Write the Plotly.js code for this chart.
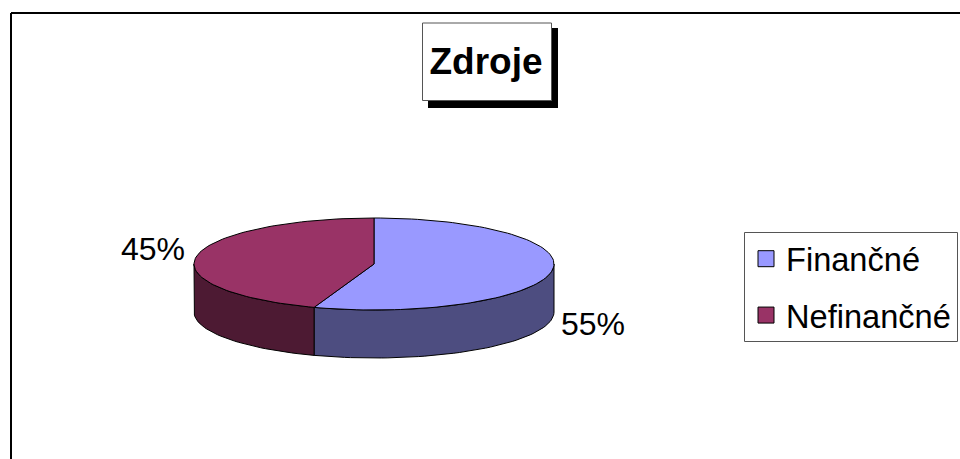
<!DOCTYPE html>
<html><head><meta charset="utf-8">
<script src="https://cdn.plot.ly/plotly-3.0.1.min.js"></script>
<style>html,body{margin:0;padding:0;background:#fff}</style></head>
<body><div id="chart" style="width:960px;height:459px"></div>
<script>
const categories = ['Finančné', 'Nefinančné'];
const values = [55.4, 44.6];
const topColors = ['#9999FF', '#993366'];
const wallColors = ['#4D4D80', '#4D1A33'];
const titleText = 'Zdroje';
const labelPos = [[593, 324], [153, 249]];

const FONT = '"Liberation Sans", Arial, sans-serif';
const cx = 374, cy = 264, rx = 180, ry = 46, depth = 48;
const pt = (deg, dy) => {
  const a = deg * Math.PI / 180;
  return [cx + rx * Math.sin(a), cy - ry * Math.cos(a) + (dy || 0)];
};
const arc = (a0, a1, dy) => {
  const out = [];
  const n = Math.max(1, Math.ceil(Math.abs(a1 - a0) / 2));
  for (let i = 0; i <= n; i++) out.push(pt(a0 + (a1 - a0) * i / n, dy));
  return out;
};
const total = values.reduce((s, v) => s + v, 0);
const traces = [];
let start = 0;
const tops = [];
values.forEach((v, i) => {
  const end = start + v / total * 360;
  const w0 = Math.max(start, 90), w1 = Math.min(end, 270);
  if (w1 > w0) {
    const poly = arc(w0, w1, 0).concat(arc(w1, w0, depth));
    poly.push(poly[0]);
    traces.push({type:'scatter', mode:'lines', x:poly.map(p=>p[0]), y:poly.map(p=>p[1]),
      fill:'toself', fillcolor:wallColors[i], line:{color:'#000', width:1}, showlegend:false, hoverinfo:'skip'});
  }
  const poly = [[cx, cy]].concat(arc(start, end, 0));
  poly.push([cx, cy]);
  tops.push({type:'scatter', mode:'lines', x:poly.map(p=>p[0]), y:poly.map(p=>p[1]),
    fill:'toself', fillcolor:topColors[i], line:{color:'#000', width:1}, showlegend:false,
    name:categories[i], hoverinfo:'name'});
  start = end;
});
traces.push(...tops);
categories.forEach((c, i) => traces.push({type:'scatter', mode:'markers', x:[-100], y:[-100], name:c,
  legendgroup:c, marker:{symbol:'square', size:17, color:topColors[i], line:{color:'#000', width:1}}, hoverinfo:'skip'}));

const rect = (x0, y0, x1, y1, fill, lc, lw) => ({type:'rect', xref:'x', yref:'y', x0, y0, x1, y1,
  fillcolor:fill, line:{color:lc, width:lw}, layer:'below'});
const line = (x0, y0, x1, y1) => ({type:'line', xref:'x', yref:'y', x0, y0, x1, y1,
  line:{color:'#000', width:2}, layer:'below'});

const layout = {
  width:960, height:459, margin:{l:0, r:0, t:0, b:0}, paper_bgcolor:'#fff', plot_bgcolor:'#fff',
  title:{text:titleText, x:486/960, y:1-61/459, xref:'paper', yref:'paper', xanchor:'center', yanchor:'middle',
    font:{family:FONT, size:37, color:'#000', weight:700}},
  xaxis:{range:[0,960], visible:false, fixedrange:true},
  yaxis:{range:[459,0], visible:false, fixedrange:true},
  showlegend:true,
  legend:{x:746/960, y:1-231/459, xanchor:'left', yanchor:'top', bgcolor:'rgba(0,0,0,0)', borderwidth:0,
    font:{family:FONT, size:32.6, color:'#000'}, tracegroupgap:11, itemclick:false, itemdoubleclick:false},
  shapes:[
    line(11, 13, 960, 13), line(11, 13, 11, 459),
    rect(428, 28, 558, 108, '#000', '#000', 0),
    rect(422.5, 23, 551.5, 100.5, '#fff', '#555', 1),
    rect(744.5, 232.5, 957.5, 341.5, '#fff', '#555', 1)
  ],
  annotations: values.map((v, i) => ({xref:'x', yref:'y', x:labelPos[i][0], y:labelPos[i][1],
    text:Math.round(v/total*100)+'%', showarrow:false, xanchor:'center', yanchor:'middle',
    font:{family:FONT, size:32, color:'#000'}}))
};
Plotly.newPlot('chart', traces, layout, {displayModeBar:false, responsive:false});
</script></body></html>
